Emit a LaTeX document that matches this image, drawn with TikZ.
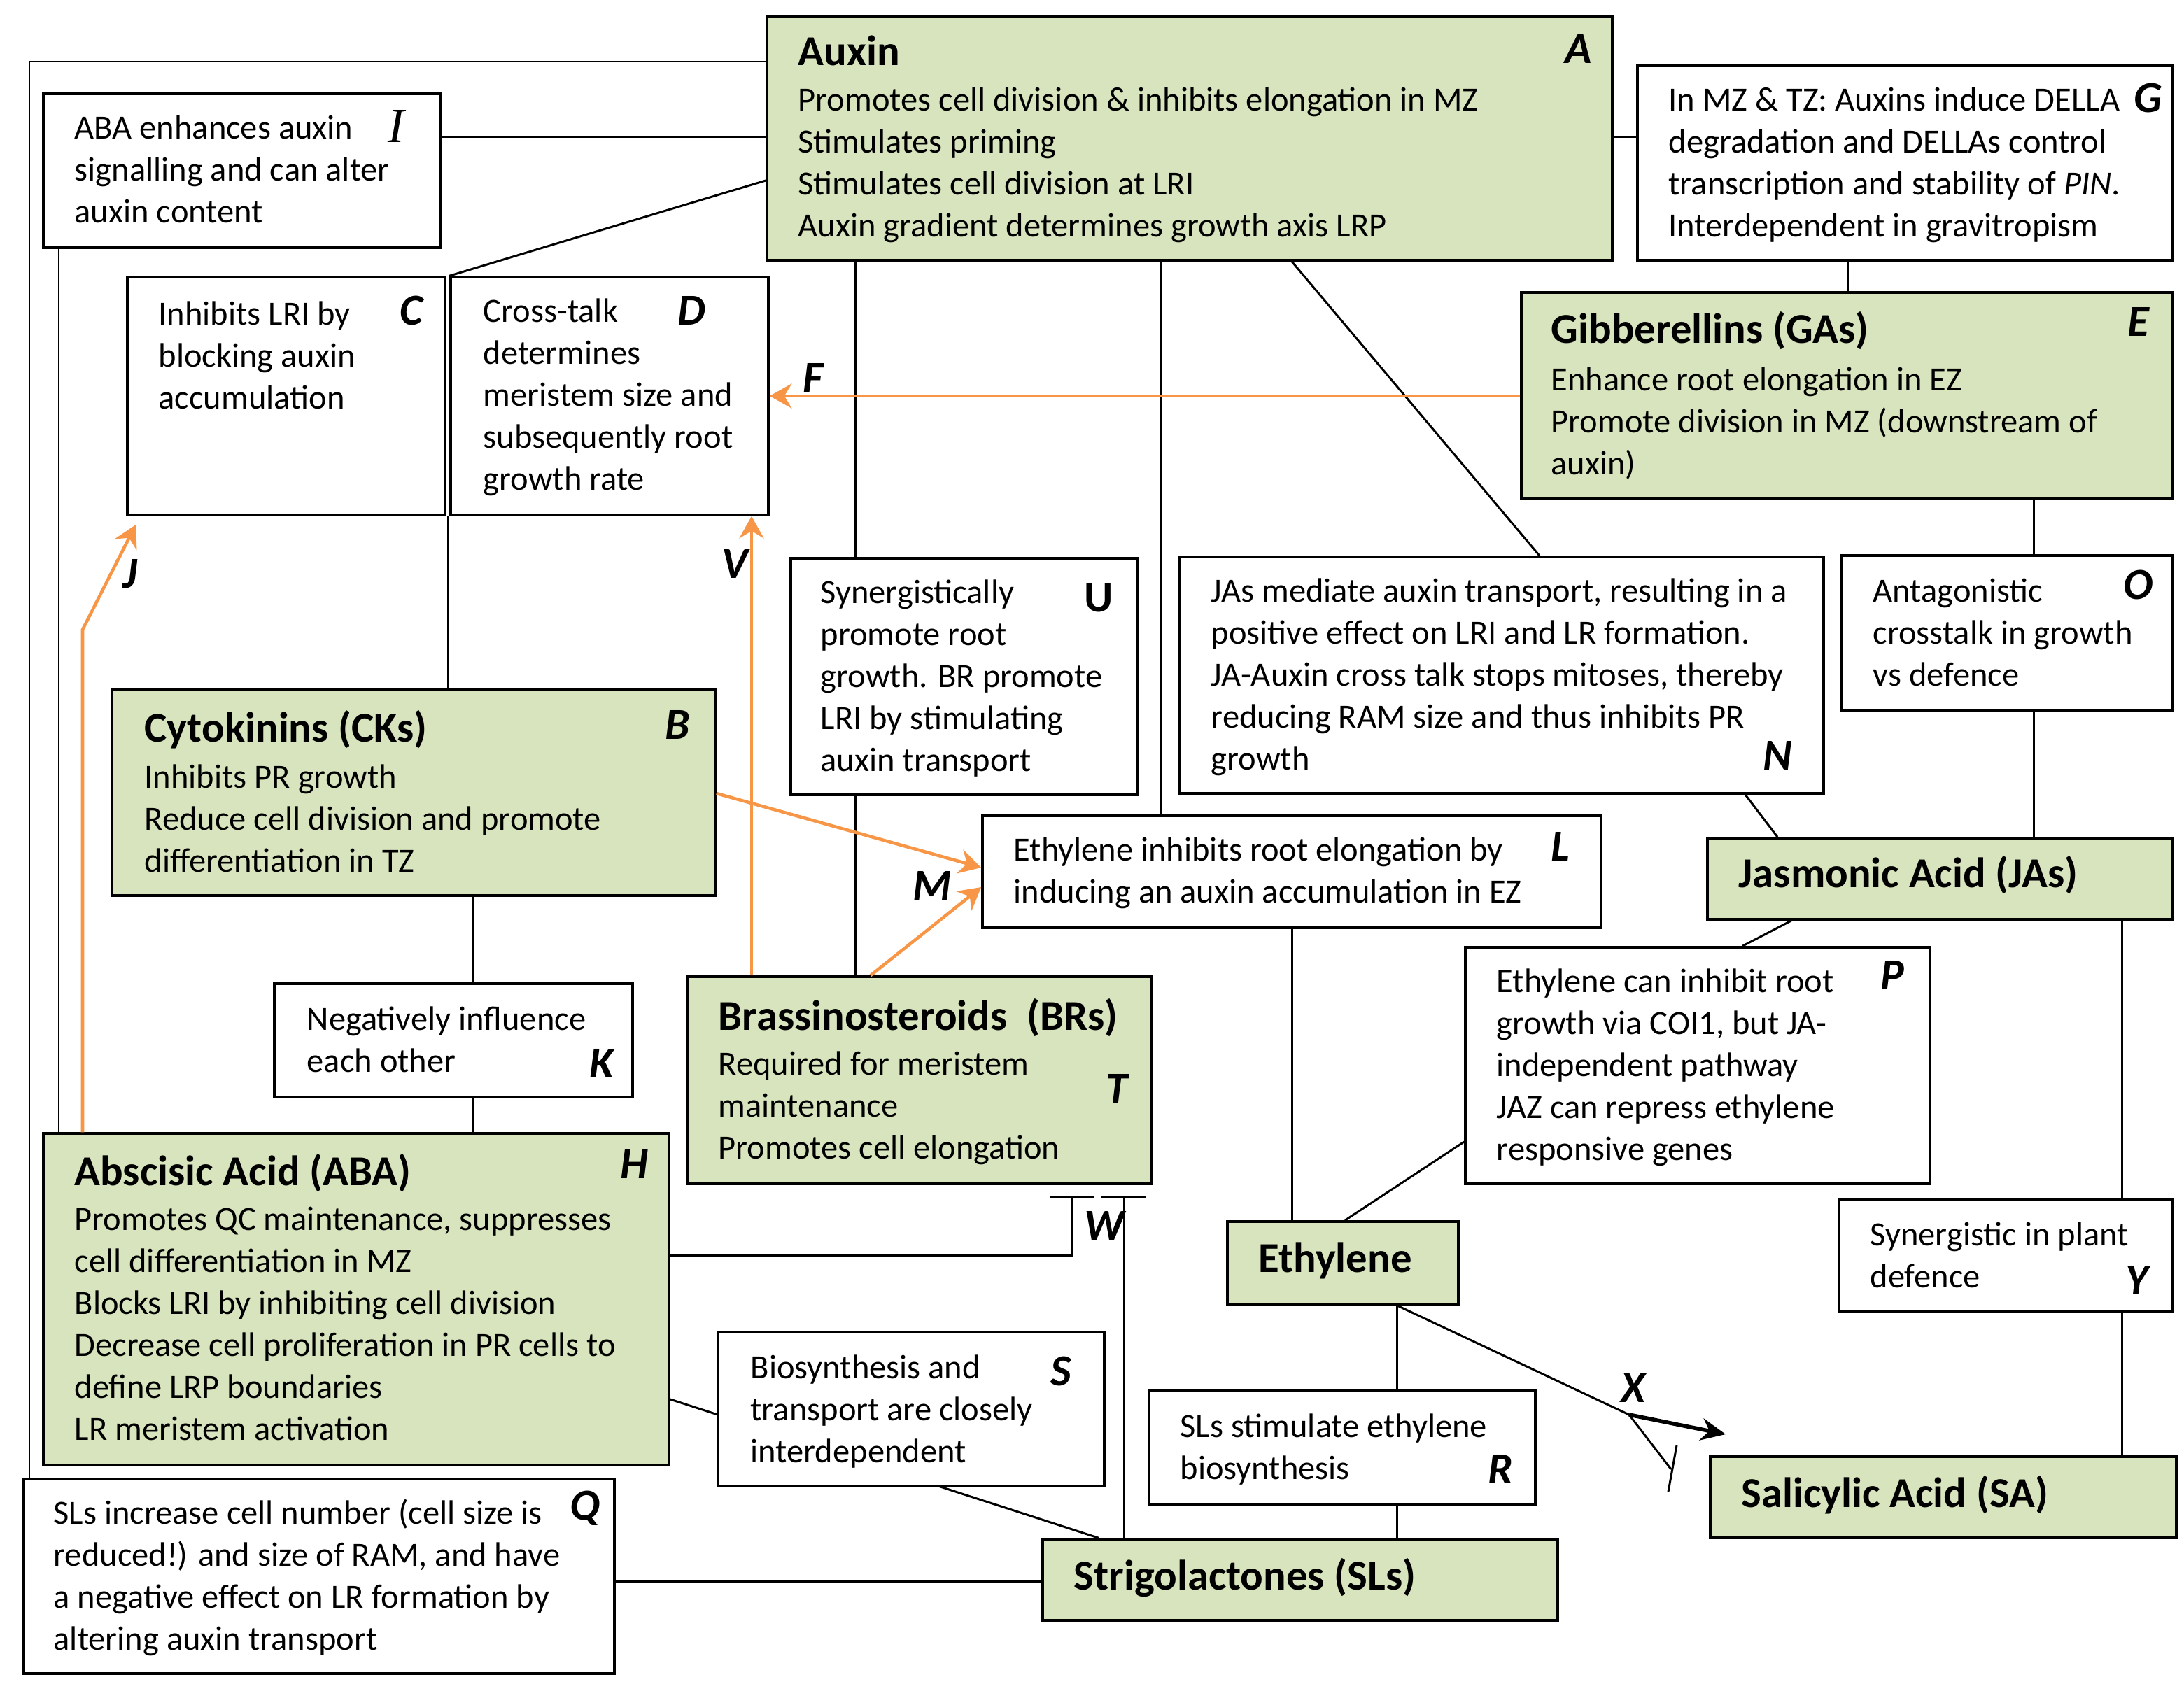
\documentclass[tikz,border=0pt]{standalone}
\usepackage{fontspec}
\setmainfont{Carlito}
\newfontfamily\serifI{Liberation Serif}
\usetikzlibrary{arrows.meta,fit,calc}
\definecolor{boxgreen}{HTML}{D7E4BD}
\definecolor{arrorange}{HTML}{F79646}
\pgfdeclarelayer{bg}
\pgfsetlayers{bg,main}
\begin{document}
\begin{tikzpicture}[x=0.02cm,y=-0.02cm,
  wbox/.style={draw=black, line width=1.0pt, fill=white, inner sep=0pt},
  gbox/.style={wbox, fill=boxgreen},
  txt/.style={anchor=base west, align=left, inner sep=0pt, font=\fontsize{13.8}{17.07}\selectfont},
  ttl/.style={anchor=base west, inner sep=0pt, font=\fontsize{17.3}{20}\selectfont\bfseries},
  lbl/.style={inner sep=0pt, font=\fontsize{18}{20}\selectfont\bfseries\itshape},
  conn/.style={draw=black, line width=0.85pt},
  oarr/.style={draw=arrorange, line width=1.3pt, -{Stealth[length=9pt,width=10pt,inset=3pt]}},
  inh/.style={conn, -{Bar[width=0.64cm]}}
]
\useasboundingbox (0,0) rectangle (1560.5,1208.5);

% ---------- boxes (multi-line texts are placed at the baseline of their last line) ----------
\node[gbox, fit={(548,12) (1152,186)}] (A) {};
\node[ttl] (At) at (570,47) {Auxin};
\node[txt] (Ab) at (570,169) {Promotes cell division \& inhibits elongation in MZ\\Stimulates priming\\Stimulates cell division at LRI\\Auxin gradient determines growth axis LRP};
\node[lbl] (Al) at (1128,35) {A};

\node[wbox, fit={(31,67) (315,177)}] (I) {};
\node[txt] (Ib) at (53,159) {ABA enhances auxin\\signalling and can alter\\auxin content};
\node[inner sep=0pt, font=\fontsize{20}{22}\selectfont\serifI\itshape] (Il) at (283,90) {I};

\node[wbox, fit={(91,198) (318,368)}] (C) {};
\node[txt] (Cb) at (113,292) {Inhibits LRI by\\blocking auxin\\accumulation};
\node[lbl] (Cl) at (294,222) {C};

\node[wbox, fit={(322,198) (549,368)}] (D) {};
\node[txt] (Db) at (345,350) {Cross-talk\\determines\\meristem size and\\subsequently root\\growth rate};
\node[lbl] (Dl) at (494,222) {D};

\node[wbox, fit={(1170,47) (1552,186)}] (G) {};
\node[txt] (Gb) at (1192,169) {In MZ \& TZ: Auxins induce DELLA\\degradation and DELLAs control\\transcription and stability of \textit{PIN}.\\Interdependent in gravitropism};
\node[lbl] (Gl) at (1535,70) {G};

\node[gbox, fit={(1087,209) (1552,356)}] (E) {};
\node[ttl] (Et) at (1108,245) {Gibberellins (GAs)};
\node[txt] (Eb) at (1108,339) {Enhance root elongation in EZ\\Promote division in MZ (downstream of\\auxin)};
\node[lbl] (El) at (1528,230) {E};

\node[wbox, fit={(1316,397) (1552,508)}] (O) {};
\node[txt] (Ob) at (1338,490) {Antagonistic\\crosstalk in growth\\vs defence};
\node[lbl] (Ol) at (1528,418) {O};

\node[gbox, fit={(1220,599) (1552,657)}] (JA) {};
\node[ttl] (JAt) at (1242,634) {Jasmonic Acid (JAs)};

\node[wbox, fit={(843,398) (1303,567)}] (N) {};
\node[txt] (Nb) at (865,550) {JAs mediate auxin transport, resulting in a\\positive effect on LRI and LR formation.\\JA-Auxin cross talk stops mitoses, thereby\\reducing RAM size and thus inhibits PR\\growth};
\node[lbl] (Nl) at (1270,540) {N};

\node[wbox, fit={(565,399) (813,568)}] (U) {};
\node[txt] (Ub) at (586,551) {Synergistically\\promote root\\growth. BR promote\\LRI by stimulating\\auxin transport};
\node[inner sep=0pt, font=\fontsize{18}{20}\selectfont\bfseries] (Ul) at (785,427) {U};

\node[wbox, fit={(702,583) (1144,663)}] (L) {};
\node[txt] (Lb) at (724,645) {Ethylene inhibits root elongation by\\inducing an auxin accumulation in EZ};
\node[lbl] (Ll) at (1115,605) {L};

\node[gbox, fit={(80,493) (511,640)}] (B) {};
\node[ttl] (Bt) at (103,530) {Cytokinins (CKs)};
\node[txt] (Bb) at (103,623) {Inhibits PR growth\\Reduce cell division and promote\\differentiation in TZ};
\node[lbl] (Bl) at (484,518) {B};

\node[wbox, fit={(196,703) (452,784)}] (K) {};
\node[txt] (Kb) at (219,766) {Negatively influence\\each other};
\node[lbl] (Kl) at (430,760) {K};

\node[gbox, fit={(31,810) (478,1047)}] (H) {};
\node[ttl] (Ht) at (53,847) {Abscisic Acid (ABA)};
\node[txt] (Hb) at (53,1029) {Promotes QC maintenance, suppresses\\cell differentiation in MZ\\Blocks LRI by inhibiting cell division\\Decrease cell proliferation in PR cells to\\define LRP boundaries\\LR meristem activation};
\node[lbl] (Hl) at (453,832) {H};

\node[wbox, fit={(17,1057) (439,1196)}] (Q) {};
\node[txt] (Qb) at (38,1179) {SLs increase cell number (cell size is\\reduced!) and size of RAM, and have\\a negative effect on LR formation by\\altering auxin transport};
\node[lbl] (Ql) at (418,1078) {Q};

\node[gbox, fit={(491,698) (823,846)}] (BR) {};
\node[ttl] (BRt) at (513,736) {Brassinosteroids\ \ (BRs)};
\node[txt] (BRb) at (513,828) {Required for meristem\\maintenance\\Promotes cell elongation};
\node[lbl] (BRl) at (798,778) {T};

\node[wbox, fit={(513,952) (789,1062)}] (S) {};
\node[txt] (Sb) at (536,1045) {Biosynthesis and\\transport are closely\\interdependent};
\node[lbl] (Sl) at (758,980) {S};

\node[gbox, fit={(745,1100) (1113,1158)}] (SL) {};
\node[ttl] (SLt) at (767,1136) {Strigolactones (SLs)};

\node[gbox, fit={(877,873) (1042,932)}] (ET) {};
\node[ttl] (ETt) at (899,909) {Ethylene};

\node[wbox, fit={(1047,677) (1379,846)}] (P) {};
\node[txt] (Pb) at (1069,829) {Ethylene can inhibit root\\growth via COI1, but JA-\\independent pathway\\JAZ can repress ethylene\\responsive genes};
\node[lbl] (Pl) at (1352,697) {P};

\node[wbox, fit={(1314,857) (1552,937)}] (Y) {};
\node[txt] (Yb) at (1336,920) {Synergistic in plant\\defence};
\node[lbl] (Yl) at (1527,915) {Y};

\node[gbox, fit={(1222,1041) (1555,1099)}] (SA) {};
\node[ttl] (SAt) at (1244,1077) {Salicylic Acid (SA)};

\node[wbox, fit={(821,994) (1097,1075)}] (R) {};
\node[txt] (Rb) at (843,1057) {SLs stimulate ethylene\\biosynthesis};
\node[lbl] (Rl) at (1072,1050) {R};

% ---------- connector labels ----------
\node[lbl] (Fl) at (581,270) {F};
\node[lbl] (Ml) at (666,633) {M};
\node[lbl] (Jl) at (93,410) {J};
\node[lbl] (Vl) at (525,403) {V};
\node[lbl] (Wl) at (789,876) {W};
\node[lbl] (Xl) at (1167,992) {X};

% ---------- free-end coordinates ----------
\coordinate (W1) at (766,855);
\coordinate (W2) at (803,855);
\coordinate (Jk) at (59,450);
\coordinate (Jt) at (97,375);
\coordinate (Xj) at (1164,1011);
\coordinate (Xa) at (1233,1025);
\coordinate (Xe) at (1194,1050);
\coordinate (Xb1) at (1198,1033);
\coordinate (Xb2) at (1192,1066);

% ---------- black connectors ----------
\draw[conn] (A.west |- 0,44) -| (21,0 |- Q.north);
\draw[conn] (I.east |- 0,98) -- (A.west |- 0,98);
\draw[conn] (A.west |- 0,129) -- (D.north west);
\draw[conn] (42,0 |- I.south) -- (42,0 |- H.north);
\draw[conn] (320,0 |- D.south) -- (320,0 |- B.north);
\draw[conn] (A.east |- 0,98) -- (G.west |- 0,98);
\draw[conn] (1320,0 |- G.south) -- (1320,0 |- E.north);
\draw[conn] (1453,0 |- E.south) -- (1453,0 |- O.north);
\draw[conn] (1453,0 |- O.south) -- (1453,0 |- JA.north);
\draw[conn] (923,0 |- A.south) -- (1100,0 |- N.north);
\draw[conn] (1247,0 |- N.south) -- (1270,0 |- JA.north);
\begin{pgfonlayer}{bg}
\draw[conn] (611,0 |- A.south) -- (611,0 |- BR.north);
\draw[conn] (H.east |- 0,1000) -- (785,0 |- SL.north);
\end{pgfonlayer}
\draw[conn] (829,0 |- A.south) -- (829,0 |- L.north);
\draw[conn] (923,0 |- L.south) -- (923,0 |- ET.north);
\draw[conn] (338,0 |- B.south) -- (338,0 |- K.north);
\draw[conn] (338,0 |- K.south) -- (338,0 |- H.north);
\draw[inh] (H.east |- 0,897) -| (W1);
\draw[inh] (803,0 |- SL.north) -- (W2);
\draw[conn] (Q.east |- 0,1130) -- (SL.west |- 0,1130);
\draw[conn] (961,0 |- ET.north) -- (P.west |- 0,816);
\draw[conn] (1280,0 |- JA.south) -- (1245,0 |- P.north);
\draw[conn] (1516,0 |- JA.south) -- (1516,0 |- Y.north);
\draw[conn] (1516,0 |- Y.south) -- (1516,0 |- SA.north);
\draw[conn] (998,0 |- ET.south) -- (998,0 |- R.north);
\draw[conn] (998,0 |- R.south) -- (998,0 |- SL.north);
\draw[conn] (998,0 |- ET.south) -- (Xj);
\draw[line width=1.6pt, -{Stealth[length=10pt,width=9pt]}] (Xj) -- (Xa);
\draw[conn] (Xj) -- (Xe);
\draw[conn] (Xb1) -- (Xb2);

% ---------- orange arrows ----------
\draw[oarr] (59,0 |- H.north) -- (Jk) -- (Jt);
\draw[oarr] (537,0 |- BR.north) -- (537,0 |- D.south);
\draw[oarr] (E.west |- 0,283) -- (D.east |- 0,283);
\draw[oarr] (B.east |- 0,567) -- (L.west |- 0,620);
\draw[oarr] (622,0 |- BR.north) -- (L.west |- 0,634);
\end{tikzpicture}
\end{document}
